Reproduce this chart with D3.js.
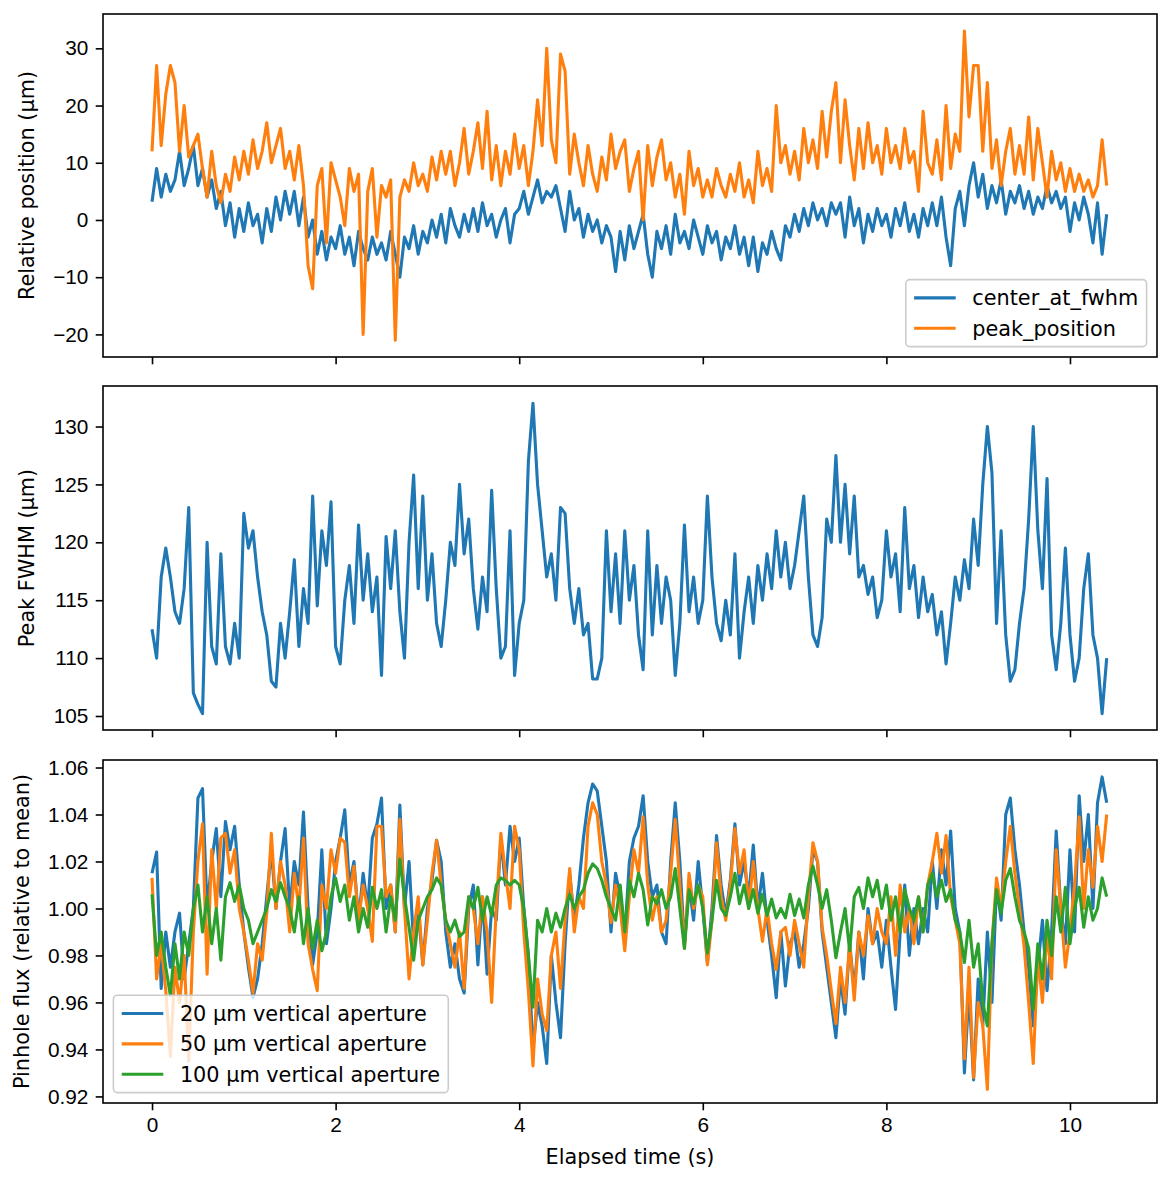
<!DOCTYPE html>
<html lang="en">
<head>
<meta charset="UTF-8">
<title>Beam position, FWHM and pinhole flux</title>
<script src="https://cdn.jsdelivr.net/npm/d3@7"></script>
<style>
  body { margin: 0; background: #fff; }
  svg { display: block; font-family: 'DejaVu Sans', sans-serif; }
  .tick text { font-size: 20.8px; fill: #000; }
  .tick line { stroke: #000; stroke-width: 1.6px; }
  .axlabel { font-size: 20.8px; fill: #000; }
  .legend text { font-size: 20.8px; fill: #000; }
</style>
</head>
<body>
<svg id="chart" width="1170" height="1182"></svg>
<script>
// sampling step of the series (s)
const dt = 0.05;

// top panel: relative position (µm)
const centerAtFwhm = [
  3.2, 9, 4, 8, 5, 7, 12, 6, 9, 13,
  6, 9, 4, 7, 2, 5, -1, 3, -3, 2,
  -2, 3, -1, 1, -4, 2, -2, 4, 0, 5,
  1, 5, -1, 4, -3, 0, -6, -2, -7, -3,
  -5, -1, -6, -3, -8, -2, -5, -7, -3, -6,
  -4, -7, -2, -6, -10, -3, -5, -1, -6, -2,
  -4, 0, -3, 1, -4, 2, -1, -3, 1, -2,
  2, -2, 3, -1, 1, -3, 0, 2, -4, 1,
  2, 5, 1, 4, 7, 3, 5, 4, 6, 2,
  -2, 5, 0, 2, -3, 1, -2, 0, -4, -1,
  -3, -9, -2, -7, -1, -5, -2, 1, -6, -10,
  -2, -5, -1, -6, 1, -4, -2, -5, 0, -3,
  -6, -1, -4, -2, -7, -3, -5, -1, -6, -3,
  -8, -3, -9, -4, -6, -2, -5, -7, -1, -3,
  1, -2, 2, -1, 3, 0, 2, -1, 3, 1,
  3, -3, 4, -1, 2, -4, 1, -2, 2, -1,
  1, -3, 2, -1, 3, -2, 1, -3, 2, -1,
  3, -1, 4, -3, -8, 2, 5, -1, 6, 10,
  4, 8, 2, 6, 3, 7, 1, 5, 3, 6,
  2, 5, 1, 4, 2, 6, 3, 5, 2, 4,
  -2, 3, 0, 4, 1, -4, 3, -6, 1
];
const peakPosition = [
  12, 27, 13, 22, 27, 24, 12, 20, 11, 13,
  15, 9, 4, 12, 6, 3, 8, 5, 11, 7,
  12, 8, 14, 9, 12, 17, 10, 13, 16, 9,
  12, 7, 13, 6, -8, -12, 6, 9, -4, 10,
  7, 4, -1, 9, 5, 8, -20, 5, 9, -3,
  6, 4, 7, -21, 4, 7, 5, 10, 6, 8,
  5, 11, 7, 12, 8, 12, 6, 10, 16, 8,
  12, 17, 9, 19, 7, 13, 6, 12, 8, 15,
  9, 13, 6, 12, 21, 13, 30, 14, 10, 29,
  26, 8, 15, 10, 6, 13, 8, 5, 11, 7,
  15, 9, 12, 14, 5, 9, 12, 0, 13, 6,
  11, 14, 7, 10, 4, 8, 1, 12, 6, 9,
  4, 7, 4, 9, 6, 4, 8, 5, 10, 4,
  7, 3, 12, 6, 9, 5, 20, 10, 13, 8,
  12, 7, 16, 10, 14, 9, 19, 11, 19, 24,
  10, 21, 13, 7, 16, 9, 17, 10, 13, 8,
  16, 10, 13, 9, 16, 10, 12, 5, 19, 10,
  8, 14, 7, 20, 9, 15, 12, 33, 18, 27,
  27, 12, 24, 9, 14, 6, 12, 16, 8, 13,
  8, 18, 7, 16, 10, 4, 12, 7, 10, 5,
  9, 5, 8, 5, 7, 4, 6, 14, 6
];

// middle panel: peak FWHM (µm)
const peakFwhm = [
  112.5, 110, 117, 119.5, 117, 114, 113, 116, 123, 107,
  106, 105.2, 120, 111, 109.5, 119, 111, 109.5, 113, 110,
  122.5, 119.5, 121, 117, 114, 112, 108, 107.5, 113, 110,
  114, 118.5, 111, 116, 113, 124, 114.5, 121, 118, 123.5,
  111, 109.5, 115, 118, 113, 121.5, 115, 119, 114, 117,
  108.5, 120.5, 116, 121, 114, 110, 120, 125.8, 116, 124,
  115, 119, 113, 111, 115, 120, 118, 125, 119, 122,
  116, 112.5, 117, 114, 124.5, 116, 110, 111, 121, 108.5,
  113, 115, 127, 132, 125, 121, 117, 119, 115, 123,
  122.5, 116, 113, 116, 112, 113, 108.2, 108.2, 110, 121,
  114, 119, 113, 121, 115, 118, 112, 109, 121, 112,
  118, 113, 117, 115, 108.5, 113, 121.5, 114, 117, 113,
  115, 124, 117, 113, 111.5, 115, 112, 119, 110, 114,
  117, 113, 118, 115, 119, 116, 121, 117, 120, 116,
  118, 121, 124, 117, 112, 111, 113.5, 122, 120, 127.5,
  120, 125, 119, 124, 117, 118, 115.5, 117, 113.5, 115,
  121, 117, 119, 114, 123, 116, 118, 113.5, 117, 114,
  115.5, 112, 114, 109.5, 113, 117, 115, 118.5, 116, 122,
  118, 125, 130, 126, 113, 121, 112, 108, 109, 113,
  116, 122, 130, 121, 116, 125.5, 112, 109, 113, 119.5,
  112, 108, 110, 116, 119, 112, 110, 105.2, 110
];

// bottom panel: pinhole flux relative to mean
const flux20 = [
  1.015, 1.024, 0.966, 0.99, 0.975, 0.99, 0.998, 0.97, 0.985, 1.0,
  1.047, 1.051, 1.0, 1.02, 1.034, 1.005, 1.037, 1.025, 1.035, 1.01,
  0.99, 0.975, 0.962, 0.97, 0.985, 1.005, 1.025, 1.0, 1.02, 1.034,
  1.0, 1.02, 1.01, 1.041, 1.0, 0.976, 0.99, 1.025, 0.985, 1.0,
  1.02, 1.03, 1.042, 1.01, 1.02, 0.995, 1.015, 1.0, 1.03, 1.036,
  1.047, 1.0, 1.01, 0.99, 1.044, 1.0, 1.02, 0.985, 1.0, 0.976,
  1.0, 1.012, 1.029, 1.02, 0.99, 0.975, 0.985, 0.97, 0.964, 1.0,
  1.01, 0.976, 1.005, 0.972, 1.0, 0.995, 1.03, 1.01, 1.035, 1.02,
  1.03, 1.0, 0.98, 0.94, 0.96, 0.95, 0.934, 0.98, 0.96, 0.945,
  0.985, 1.015, 0.995, 1.01, 1.03, 1.045, 1.053, 1.05, 1.035, 1.02,
  0.99, 1.015, 1.005, 0.988, 1.02, 1.03, 1.035, 1.048, 1.02, 1.005,
  1.01, 0.99, 0.985, 1.02, 1.045, 1.02, 0.985, 1.01, 0.995, 1.02,
  1.0, 0.977, 1.0, 1.031, 1.01, 0.997, 1.012, 1.036, 1.01, 1.02,
  1.005, 1.027, 1.0, 1.015, 0.995, 0.98, 0.962, 0.99, 0.967, 0.985,
  0.99, 0.975, 0.985, 1.0, 1.025, 1.02, 0.99, 0.975, 0.96, 0.945,
  0.97, 0.955, 0.985, 0.965, 0.99, 0.97, 1.0, 0.985, 0.99, 0.975,
  0.995, 0.975, 0.957, 0.99, 1.01, 0.98, 1.0, 0.985, 1.0, 0.99,
  1.02, 1.0, 1.025, 1.01, 1.033, 1.0, 0.99, 0.93, 0.965, 0.927,
  0.97, 0.95, 0.99, 0.96, 1.01, 0.995, 1.04, 1.047, 1.025, 1.01,
  0.99, 0.975, 0.95, 0.975, 0.995, 0.965, 0.99, 1.033, 1.0, 0.985,
  1.025, 0.99, 1.048, 1.02, 1.04, 1.0, 1.045, 1.056, 1.045
];
const flux50 = [
  1.013, 0.97, 0.985, 0.965, 0.937, 0.975, 0.96, 0.98, 0.935, 0.99,
  1.02, 1.036, 0.972, 1.025, 1.0, 1.03, 1.032, 1.015, 1.025, 1.0,
  0.99, 0.978, 0.964, 0.985, 0.978, 0.998, 1.032, 1.0, 1.02, 1.01,
  0.99, 1.015, 1.0, 1.03, 0.985, 0.974, 0.965, 1.01, 1.0, 1.025,
  1.015, 1.03, 1.028, 1.005, 1.018, 0.995, 1.01, 1.0, 0.986, 1.035,
  1.035, 1.005, 1.01, 0.99, 1.038, 1.0, 0.97, 0.99, 1.005, 0.976,
  0.995, 1.015, 1.029, 1.01, 0.995, 0.985, 0.975, 0.99, 0.966, 1.005,
  1.0, 0.985, 1.005, 0.99, 0.96, 1.0, 1.032, 1.015, 1.0, 1.035,
  1.025, 0.99, 0.965, 0.933, 0.97, 0.955, 0.948, 0.98, 0.99, 0.966,
  0.995, 1.017, 0.99, 1.005, 1.0, 1.035, 1.045, 1.04, 1.02, 1.01,
  0.994, 1.01, 1.0, 0.982, 1.005, 1.025, 1.015, 1.039, 1.01, 0.995,
  1.005, 0.99, 0.995, 1.015, 1.038, 1.01, 0.983, 1.015, 1.0, 1.01,
  1.005, 0.976, 0.995, 1.028, 1.005, 0.995, 1.01, 1.034, 1.015, 1.025,
  1.0, 1.02, 1.0, 0.986, 1.0, 0.985, 0.974, 0.99, 0.992, 0.98,
  0.995, 0.985, 0.975, 1.005, 1.028, 1.02, 0.992, 0.98, 0.965, 0.951,
  0.975, 0.96, 0.985, 0.961, 0.99, 0.98, 0.997, 0.985, 1.0, 0.99,
  0.985, 1.005, 0.98, 1.01, 0.99, 1.0, 0.985, 1.005, 0.99, 1.01,
  1.02, 1.032, 1.015, 1.031, 1.005, 0.995, 0.985, 0.936, 0.975, 0.928,
  0.96, 0.95, 0.923, 0.985, 1.013, 1.0, 1.02, 1.035, 1.015, 1.0,
  0.984, 0.96, 0.934, 0.98, 0.96, 0.99, 0.97, 1.025, 1.0, 0.975,
  0.99, 1.01, 1.039, 1.0, 1.025, 1.009, 1.035, 1.02, 1.04
];
const flux100 = [
  1.006, 0.98, 0.99, 0.975, 0.963, 0.985, 0.97, 0.99, 0.98, 1.0,
  1.01, 0.99, 1.005, 0.985, 1.0, 0.978, 1.005, 1.011, 1.003, 1.01,
  1.0, 0.995, 0.985, 0.99, 0.995, 1.0, 1.008, 1.003, 1.011, 1.005,
  1.0, 0.99, 1.005, 0.985, 1.0, 0.983, 0.995, 0.982, 0.99, 1.005,
  1.013, 1.003, 1.01, 0.995, 1.005, 0.99, 1.0, 0.992, 1.009, 1.0,
  1.008, 0.99, 1.005, 0.995, 1.021, 1.005, 0.992, 0.978, 0.995, 1.0,
  1.005, 1.008, 1.013, 1.01, 0.995, 0.99, 0.995, 0.988, 0.99, 1.005,
  1.0, 1.009, 0.995, 1.005, 0.997, 1.01, 1.013, 1.012, 1.01, 1.012,
  1.01, 1.0, 0.98, 0.958, 0.995, 0.99, 1.0, 0.99, 0.998, 0.992,
  1.0, 1.006, 1.0, 1.005, 1.008, 1.015, 1.019, 1.017, 1.012, 1.005,
  1.0, 0.995, 1.01, 0.99, 1.012, 1.005, 1.015, 1.008, 0.993, 1.005,
  1.002, 1.008, 1.0, 1.005, 1.017, 1.0, 0.983, 1.008, 1.002, 1.01,
  1.0, 0.981, 0.995, 1.012, 1.0, 0.997, 1.005, 1.015, 1.002, 1.01,
  1.0, 1.008, 0.998, 1.006, 0.997, 1.004, 0.996, 1.0, 0.996, 1.006,
  0.997, 1.004, 0.996, 1.01, 1.018, 1.01, 1.0, 1.008, 0.995, 0.979,
  0.99, 1.0, 0.982, 1.005, 1.009, 1.0, 1.013, 1.005, 1.012, 1.0,
  1.01, 0.995, 1.005, 0.99, 1.008, 1.0, 0.995, 1.005, 0.99, 1.01,
  1.015, 1.005, 1.012, 1.003, 1.008, 0.995, 0.99, 0.977, 0.995, 0.975,
  0.985, 0.96, 0.95, 0.985, 1.008, 0.998, 1.012, 1.017, 1.005, 0.995,
  0.99, 0.983, 0.957, 0.985, 0.97, 0.995, 0.98, 1.005, 0.99, 1.009,
  0.985, 1.0, 1.009, 0.992, 1.005, 0.995, 1.0, 1.013, 1.005
];

const xTicks = [0, 2, 4, 6, 8, 10];
const posTicks = [-20, -10, 0, 10, 20, 30];
const fwhmTicks = [105, 110, 115, 120, 125, 130];
const fluxTicks = [0.92, 0.94, 0.96, 0.98, 1.00, 1.02, 1.04, 1.06];

const blue = '#1f77b4', orange = '#ff7f0e', green = '#2ca02c';

const svg = d3.select('#chart');
const left = 103, right = 1157;
const x = d3.scaleLinear().domain([-0.534, 10.948]).range([left, right]);

function drawPanel(opt) {
  const y = d3.scaleLinear().domain(opt.domain).range([opt.bottom, opt.top]);
  const g = svg.append('g');
  const clipId = 'clip' + opt.id;
  svg.append('clipPath').attr('id', clipId)
    .append('rect').attr('x', left).attr('y', opt.top)
    .attr('width', right - left).attr('height', opt.bottom - opt.top);

  const line = d3.line().x((d, i) => x(i * dt)).y(d => y(d));
  const lg = g.append('g').attr('clip-path', `url(#${clipId})`);
  opt.series.forEach(s => {
    lg.append('path').datum(s.values)
      .attr('d', line)
      .attr('fill', 'none')
      .attr('stroke', s.color)
      .attr('stroke-width', 3.1)
      .attr('stroke-linejoin', 'round');
  });

  // axes
  const xAxis = d3.axisBottom(x).tickValues(xTicks).tickSize(7.3).tickPadding(7.3)
    .tickFormat(opt.showX ? d3.format('d') : '');
  g.append('g').attr('transform', `translate(0,${opt.bottom})`).call(xAxis)
    .call(a => a.select('.domain').remove())
    .selectAll('text').attr('font-family', null).attr('font-size', null);

  const yAxis = d3.axisLeft(y).tickValues(opt.ticks).tickSize(7.3).tickPadding(7.3)
    .tickFormat(opt.fmt);
  const ya = g.append('g').attr('transform', `translate(${left},0)`).call(yAxis)
    .call(a => a.select('.domain').remove());
  ya.selectAll('text').attr('font-family', null).attr('font-size', null);

  // frame
  g.append('rect').attr('x', left).attr('y', opt.top)
    .attr('width', right - left).attr('height', opt.bottom - opt.top)
    .attr('fill', 'none').attr('stroke', '#000').attr('stroke-width', 1.6);

  // y label next to widest tick label
  let maxW = 0;
  ya.selectAll('text').each(function () { maxW = Math.max(maxW, this.getComputedTextLength()); });
  const lx = left - 14.6 - maxW - 8.3 - 11;
  const cy = (opt.top + opt.bottom) / 2;
  g.append('text').attr('class', 'axlabel')
    .attr('transform', `translate(${lx},${cy}) rotate(-90)`)
    .attr('text-anchor', 'middle')
    .text(opt.label);

  if (opt.legend) drawLegend(opt.series, opt.legend, opt);
  return y;
}

function drawLegend(series, where, opt) {
  const pad = 8.3, handle = 41.6, gap = 16.6, rowH = 20, spacing = 10.4, axPad = 10.4;
  const lg = svg.append('g').attr('class', 'legend');
  const texts = series.map(s => lg.append('text').text(s.label));
  const tw = d3.max(texts, t => t.node().getComputedTextLength());
  const w = pad + handle + gap + tw + pad;
  const h = 2 * pad + series.length * rowH + (series.length - 1) * spacing;
  const bx = where === 'lower right' ? right - axPad - w : left + axPad;
  const by = opt.bottom - axPad - h;
  lg.insert('rect', 'text').attr('x', bx).attr('y', by).attr('width', w).attr('height', h)
    .attr('rx', 4).attr('fill', '#fff').attr('fill-opacity', 0.8)
    .attr('stroke', '#cccccc').attr('stroke-width', 1.6);
  series.forEach((s, i) => {
    const cy = by + pad + rowH / 2 + i * (rowH + spacing);
    lg.append('line').attr('x1', bx + pad).attr('x2', bx + pad + handle)
      .attr('y1', cy).attr('y2', cy).attr('stroke', s.color).attr('stroke-width', 3.1);
    texts[i].attr('x', bx + pad + handle + gap).attr('y', cy).attr('dy', '0.35em').raise();
  });
}

drawPanel({
  id: 1, top: 14, bottom: 357, domain: [-23.95, 36.0], ticks: posTicks,
  fmt: d3.format('d'), label: 'Relative position (µm)', showX: false,
  series: [
    { values: centerAtFwhm, color: blue, label: 'center_at_fwhm' },
    { values: peakPosition, color: orange, label: 'peak_position' }
  ],
  legend: 'lower right'
});

drawPanel({
  id: 2, top: 386, bottom: 730, domain: [103.79, 133.5], ticks: fwhmTicks,
  fmt: d3.format('d'), label: 'Peak FWHM (µm)', showX: false,
  series: [{ values: peakFwhm, color: blue, label: 'fwhm' }]
});

drawPanel({
  id: 3, top: 760, bottom: 1103, domain: [0.9172, 1.0632], ticks: fluxTicks,
  fmt: d3.format('.2f'), label: 'Pinhole flux (relative to mean)', showX: true,
  series: [
    { values: flux20, color: blue, label: '20 µm vertical aperture' },
    { values: flux50, color: orange, label: '50 µm vertical aperture' },
    { values: flux100, color: green, label: '100 µm vertical aperture' }
  ],
  legend: 'lower left'
});

svg.append('text').attr('class', 'axlabel')
  .attr('x', (left + right) / 2).attr('y', 1164)
  .attr('text-anchor', 'middle')
  .text('Elapsed time (s)');
</script>
</body>
</html>
